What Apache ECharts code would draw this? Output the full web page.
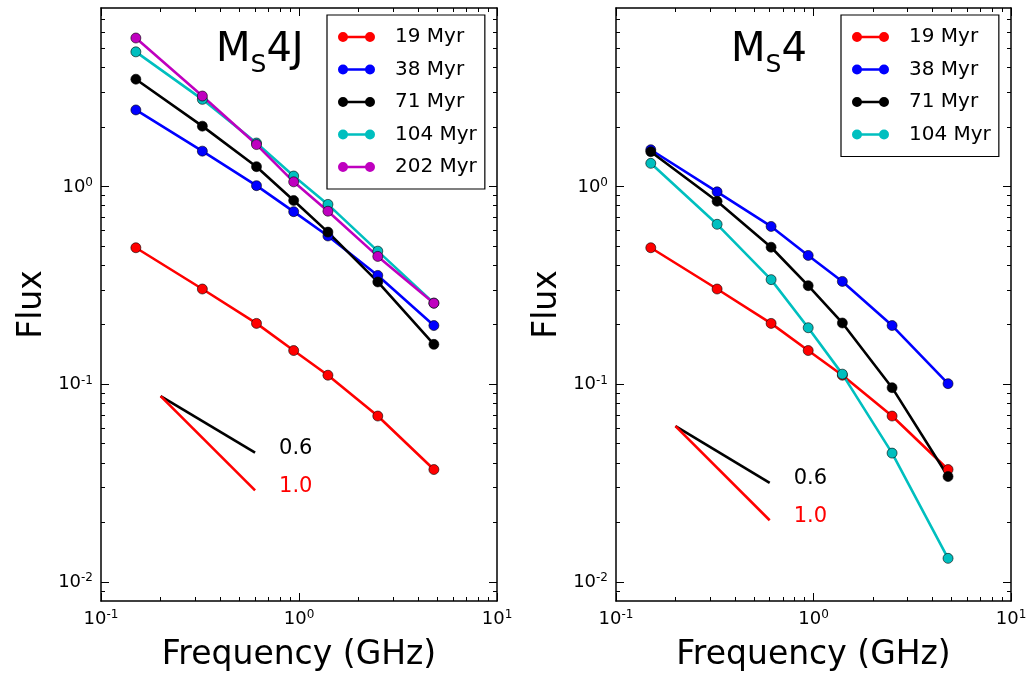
<!DOCTYPE html>
<html>
<head>
<meta charset="utf-8">
<script src="https://cdn.jsdelivr.net/npm/echarts@6/dist/echarts.min.js"></script>
<style>
  html, body { margin: 0; padding: 0; background: #fff; }
  #chart { width: 1031px; height: 677px; }
</style>
</head>
<body>
<div id="chart"></div>
<script>
// 频率 (GHz)
var freq = [0.15, 0.325, 0.61, 0.94, 1.4, 2.5, 4.8];

// 左图 Ms4J
var ms4j_19 = [0.49, 0.303, 0.203, 0.148, 0.111, 0.069, 0.037];
var ms4j_38 = [2.44, 1.51, 1.01, 0.746, 0.562, 0.355, 0.198];
var ms4j_71 = [3.49, 2.02, 1.26, 0.85, 0.588, 0.329, 0.159];
var ms4j_104 = [4.8, 2.76, 1.66, 1.13, 0.812, 0.471, 0.257];
var ms4j_202 = [5.64, 2.87, 1.63, 1.056, 0.75, 0.443, 0.257];

// 右图 Ms4
var ms4_19 = [0.49, 0.303, 0.203, 0.148, 0.111, 0.069, 0.037];
var ms4_38 = [1.535, 0.94, 0.628, 0.448, 0.331, 0.198, 0.1006];
var ms4_71 = [1.5, 0.842, 0.493, 0.315, 0.204, 0.096, 0.0341];
var ms4_104 = [1.31, 0.644, 0.338, 0.193, 0.1124, 0.0448, 0.01315];

// 斜率参考线
var slopeX = [0.2, 0.6];
var slopeLeft06 = [0.087, 0.045];
var slopeLeft10 = [0.087, 0.029];
var slopeRight06 = [0.0614, 0.0317];
var slopeRight10 = [0.0614, 0.0205];

// 坐标轴
var xLimits = [0.1, 10];
var yLimits = [0.008, 8];
var xExp = [-1, 0, 1];
var yExp = [-2, -1, 0];

var names = ['19 Myr', '38 Myr', '71 Myr', '104 Myr', '202 Myr'];
var colors = ['#ff0000', '#0000ff', '#000000', '#00bfbf', '#bf00bf'];

var FONT = 'DejaVu Sans';
var lg = Math.log10;

function minorTicks(lo, hi) {
    var out = [];
    for (var n = Math.floor(lo) - 1; n <= Math.ceil(hi); n++) {
        for (var k = 2; k <= 9; k++) {
            var v = n + lg(k);
            if (v > lo && v < hi) out.push(v);
        }
    }
    return out;
}

var xRange = [lg(xLimits[0]), lg(xLimits[1])];
var yRange = [lg(yLimits[0]), lg(yLimits[1])];

var tickRich = {
    b: { fontSize: 18, fontFamily: FONT, color: '#000', lineHeight: 19, verticalAlign: 'bottom' },
    s: { fontSize: 12, fontFamily: FONT, color: '#000', lineHeight: 12, verticalAlign: 'top' }
};
function powLabel(v) {
    return '{b|10}{s|' + Math.round(v) + '}';
}

function makeAxis(dim, gi, pos, minor, withLabel) {
    var range = dim === 'x' ? xRange : yRange;
    var exps = dim === 'x' ? xExp : yExp;
    var ax = {
        type: 'value',
        gridIndex: gi,
        position: pos,
        min: range[0],
        max: range[1],
        axisLine: { show: !minor, onZero: false, lineStyle: { color: '#000', width: 1.5 } },
        axisTick: {
            show: true,
            inside: true,
            length: minor ? 4 : 8,
            customValues: minor ? minorTicks(range[0], range[1]) : exps,
            lineStyle: { color: '#000', width: 1 }
        },
        axisLabel: {
            show: withLabel,
            customValues: exps,
            formatter: powLabel,
            rich: tickRich,
            margin: 8
        },
        splitLine: { show: false }
    };
    if (withLabel) {
        ax.nameLocation = 'middle';
        ax.nameTextStyle = { fontSize: 33, fontFamily: FONT, color: '#000' };
        if (dim === 'x') {
            ax.name = 'Frequency (GHz)';
            ax.nameGap = 38;
        } else {
            ax.name = 'Flux';
            ax.nameGap = 52;
        }
    }
    return ax;
}

var xAxes = [], yAxes = [];
[0, 1].forEach(function (gi) {
    xAxes.push(makeAxis('x', gi, 'bottom', false, true));
    xAxes.push(makeAxis('x', gi, 'bottom', true, false));
    xAxes.push(makeAxis('x', gi, 'top', false, false));
    xAxes.push(makeAxis('x', gi, 'top', true, false));
    yAxes.push(makeAxis('y', gi, 'left', false, true));
    yAxes.push(makeAxis('y', gi, 'left', true, false));
    yAxes.push(makeAxis('y', gi, 'right', false, false));
    yAxes.push(makeAxis('y', gi, 'right', true, false));
});

function toPts(xs, ys) {
    return xs.map(function (x, i) { return [lg(x), lg(ys[i])]; });
}

function dataSeries(gi, idx, vals) {
    return {
        name: names[idx],
        type: 'line',
        xAxisIndex: gi * 4,
        yAxisIndex: gi * 4,
        data: toPts(freq, vals),
        symbol: 'circle',
        symbolSize: 10,
        lineStyle: { color: colors[idx], width: 2.6 },
        itemStyle: { color: colors[idx], borderColor: '#000', borderWidth: 0.6 },
        emphasis: { disabled: true },
        animation: false
    };
}

// 斜率线，末端标注指数
function slopeSeries(gi, vals, color, text) {
    return {
        type: 'line',
        xAxisIndex: gi * 4,
        yAxisIndex: gi * 4,
        data: toPts(slopeX, vals),
        showSymbol: false,
        symbol: 'none',
        lineStyle: { color: color, width: 2.6 },
        endLabel: {
            show: true,
            formatter: text,
            distance: 24,
            offset: [0, -4],
            fontSize: 21,
            fontFamily: FONT,
            color: color
        },
        emphasis: { disabled: true },
        animation: false,
        z: 1
    };
}

var series = [
    dataSeries(0, 0, ms4j_19),
    dataSeries(0, 1, ms4j_38),
    dataSeries(0, 2, ms4j_71),
    dataSeries(0, 3, ms4j_104),
    dataSeries(0, 4, ms4j_202),
    slopeSeries(0, slopeLeft06, '#000000', '0.6'),
    slopeSeries(0, slopeLeft10, '#ff0000', '1.0'),
    dataSeries(1, 0, ms4_19),
    dataSeries(1, 1, ms4_38),
    dataSeries(1, 2, ms4_71),
    dataSeries(1, 3, ms4_104),
    slopeSeries(1, slopeRight06, '#000000', '0.6'),
    slopeSeries(1, slopeRight10, '#ff0000', '1.0')
];

var legendIcon = 'path://M0,5a5,5 0 1,0 10,0a5,5 0 1,0 -10,0zM27,5a5,5 0 1,0 10,0a5,5 0 1,0 -10,0zM5,3.8v2.4h27v-2.4z';

function makeLegend(left, data) {
    return {
        orient: 'vertical',
        left: left,
        top: 15,
        data: data,
        icon: legendIcon,
        itemWidth: 37,
        itemHeight: 10,
        itemGap: 12.5,
        padding: [12, 8, 12, 11],
        borderColor: '#000',
        borderWidth: 1.2,
        backgroundColor: '#fff',
        selectedMode: false,
        itemStyle: { borderWidth: 0 },
        textStyle: { fontSize: 20, fontFamily: FONT, color: '#000', lineHeight: 20, padding: [0, 0, 0, 15] }
    };
}

var titleRich = {
    a: { fontSize: 40, fontFamily: FONT, fontWeight: 'normal', color: '#000', lineHeight: 40, verticalAlign: 'top' },
    b: { fontSize: 25, fontFamily: FONT, fontWeight: 'normal', color: '#000', lineHeight: 25, verticalAlign: 'top', padding: [22, 0, 0, 0] }
};

var option = {
    backgroundColor: '#fff',
    animation: false,
    title: [
        { text: '{a|M}{b|S}{a|4J}', left: 216, top: 31, padding: 0, textStyle: { fontWeight: 'normal', rich: titleRich } },
        { text: '{a|M}{b|S}{a|4}', left: 731, top: 31, padding: 0, textStyle: { fontWeight: 'normal', rich: titleRich } }
    ],
    grid: [
        { left: 101, top: 8, width: 396, height: 593 },
        { left: 616, top: 8, width: 395, height: 593 }
    ],
    legend: [
        makeLegend(327, names),
        makeLegend(841, names.slice(0, 4))
    ],
    xAxis: xAxes,
    yAxis: yAxes,
    series: series
};

var chart = echarts.init(document.getElementById('chart'));
chart.setOption(option);
</script>
</body>
</html>
